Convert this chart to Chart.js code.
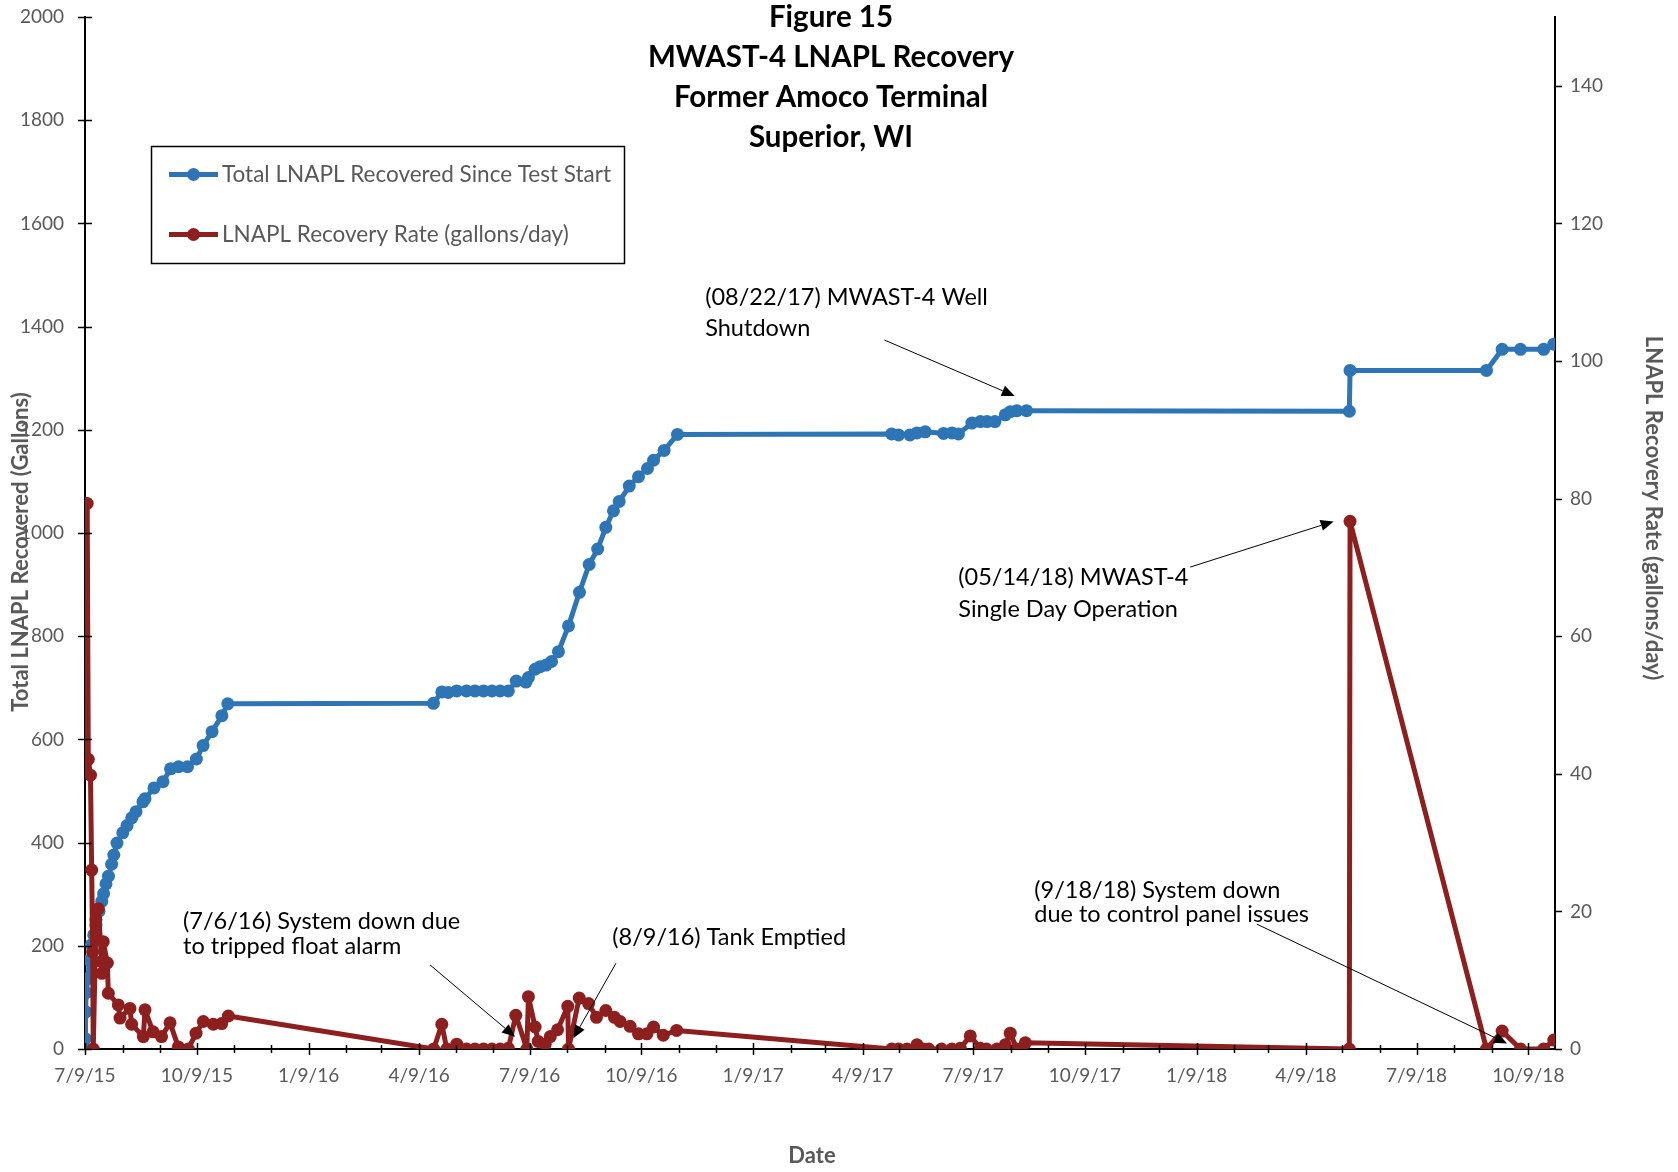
<!DOCTYPE html>
<html>
<head>
<meta charset="utf-8">
<script src="https://cdn.jsdelivr.net/npm/chart.js@4.4.1/dist/chart.umd.min.js"></script>
<style>
  html, body { margin: 0; padding: 0; background: #fff; }
  #wrap { position: relative; width: 1678px; height: 1172px; }
</style>
</head>
<body>
<div id="wrap"><canvas id="myChart"></canvas></div>
<script>
// day 0 = 7/9/15 (first reading)
const startUTC = Date.UTC(2015, 6, 9);
const endUTC = Date.UTC(2018, 9, 31);

// cumulative LNAPL recovered (gallons), left axis
const totalDays = [
  0, 0.3, 0.6, 1.0, 2.5, 3.5, 5.3, 7.2, 9.0, 11.5, 13.8, 15.3, 17.3, 19.3, 21.9, 23.7, 26.3,
  31.1, 34.6, 38.5, 42, 47.7, 49.4, 56.8, 64.2, 70.4, 77, 84.4, 91.7, 97.2, 104.6, 112.7, 117.5,
  286.8, 293.7, 299, 306, 314, 321, 328, 335, 341.7, 348.5, 355, 363, 365, 370.5, 374.6, 379.6,
  384, 389.7, 398, 407, 415, 422, 428.7, 435, 439.7, 448, 455.6, 463, 468, 476.7, 487.7,
  664, 669.7, 679, 684.8, 691.6, 706.7, 713.6, 719, 730, 737, 742.4, 749, 757.5, 761.6, 767, 775,
  1040.7, 1041.3, 1153.6, 1166.5, 1181.6, 1200.7, 1209
];
const totalGallons = [
  0, 20, 72, 109, 137, 172, 202, 221, 240, 267, 286, 301, 320, 335, 358, 376, 399,
  419, 433, 448, 460, 479, 485, 506, 518, 543, 547, 547, 562, 588, 615, 646, 669,
  670, 692, 691, 694, 694, 694, 694, 694, 694, 694, 713, 711, 720, 736, 741, 744,
  751, 770, 820, 885, 939, 969, 1011, 1043, 1061, 1091, 1109, 1125, 1141, 1160, 1191,
  1192, 1190, 1190, 1194, 1196, 1193, 1194, 1192, 1213, 1216, 1216, 1216, 1229, 1235, 1237, 1237,
  1236, 1315, 1315, 1356, 1356, 1356, 1366
];

// recovery rate (gallons/day), right axis
const rateDays = [
  0, 1.8, 2.7, 4.5, 5.5, 6.3, 6.8, 9, 11, 13.7, 13.9, 15, 18.4, 19.2, 27.4, 28.8, 37, 38.4,
  48, 49.4, 56, 63, 70, 76.8, 85, 91.4, 97.4, 105.6, 112.5, 118,
  287, 293.7, 297.8, 306, 314, 321, 328, 335, 341.7, 348.5, 354.6, 363.7, 365, 370.5, 373,
  378.8, 383, 389, 397.4, 398, 406.8, 414.5, 421, 428.7, 435.8, 440.5, 448.7, 455.6, 462.5,
  468, 476, 487,
  664, 669.7, 676.6, 684.8, 690, 694.4, 705, 713.6, 720.5, 728.7, 737, 742, 750.6, 757.5,
  761.6, 767, 774,
  1040.7, 1041.3, 1153.6, 1166.5, 1181.6, 1200.7, 1209
];
const rateGpd = [
  40.6, 79.3, 42.1, 39.8, 26.0, 14.1, 0, 18.8, 20.4, 12.7, 11.0, 15.6, 12.5, 8.1, 6.4, 4.5, 5.9, 3.6,
  1.8, 5.7, 2.5, 1.8, 3.8, 0.3, 0, 2.3, 4.0, 3.6, 3.7, 4.8,
  0, 3.6, 0, 0.7, 0, 0, 0, 0, 0, 0.1, 4.9, 0, 7.6, 3.2, 1.1,
  0.7, 1.8, 2.8, 6.2, 0, 7.4, 6.6, 4.6, 5.6, 4.6, 4.0, 3.3, 2.2, 2.2,
  3.2, 2.0, 2.7,
  0, 0, 0, 0.6, 0, 0, 0, 0, 0.1, 1.9, 0.1, 0, 0, 0.6,
  2.3, 0, 0.9,
  0, 76.7, 0, 2.6, 0, 0, 1.3
];

const titleLines = ['Figure 15', 'MWAST-4 LNAPL Recovery', 'Former Amoco Terminal', 'Superior, WI'];
const seriesNames = ['Total LNAPL Recovered Since Test Start', 'LNAPL Recovery Rate (gallons/day)'];

// callouts: text anchor and arrow in (day, left-axis gallons)
const callouts = [
  { lines: ['(08/22/17) MWAST-4 Well', 'Shutdown'], at: [510.5, 1456], gap: 31, from: [658, 1374], to: [765.3, 1265.5] },
  { lines: ['(05/14/18) MWAST-4', 'Single Day Operation'], at: [718.8, 913], gap: 32, from: [909.8, 934], to: [1027.8, 1022.5] },
  { lines: ['(7/6/16) System down due', 'to tripped float alarm'], at: [80.7, 247], gap: 24.5, from: [284, 163], to: [354, 23.8] },
  { lines: ['(8/9/16) Tank Emptied'], at: [434, 216], gap: 0, from: [437, 166], to: [402, 20.7] },
  { lines: ['(9/18/18) System down', 'due to control panel issues'], at: [781.4, 308], gap: 24.6, from: [964.6, 242], to: [1170.6, 10.7] }
];

const BLUE = '#2E75B6';
const RED = '#8E1F1F';
const GREY = '#595959';
const FONT = 'Lato, "Open Sans", sans-serif';

function dayOfMonth(k) {
  return Math.round((Date.UTC(2015, 6 + k, 9) - startUTC) / 86400000);
}
const maxDay = Math.round((endUTC - startUTC) / 86400000);

function monthLabel(k) {
  const d = new Date(Date.UTC(2015, 6 + k, 9));
  return (d.getUTCMonth() + 1) + '/' + d.getUTCDate() + '/' + String(d.getUTCFullYear()).slice(2);
}

const blueData = totalDays.map((d, i) => ({ x: d, y: totalGallons[i] }));
const redData = rateDays.map((d, i) => ({ x: d, y: rateGpd[i] }));

function arrow(ctx, x0, y0, x1, y1) {
  const a = Math.atan2(y1 - y0, x1 - x0);
  const len = 13, hw = 5.5;
  ctx.beginPath();
  ctx.moveTo(x0, y0);
  ctx.lineTo(x1 - Math.cos(a) * len, y1 - Math.sin(a) * len);
  ctx.stroke();
  ctx.beginPath();
  ctx.moveTo(x1, y1);
  ctx.lineTo(x1 - Math.cos(a) * len - Math.sin(a) * hw, y1 - Math.sin(a) * len + Math.cos(a) * hw);
  ctx.lineTo(x1 - Math.cos(a) * len + Math.sin(a) * hw, y1 - Math.sin(a) * len - Math.cos(a) * hw);
  ctx.closePath();
  ctx.fill();
}

// keep the plot box fixed: no extra room for the end labels
function fixVertical(width) {
  return scale => {
    scale.width = width;
    scale.paddingTop = 0;
    scale.paddingBottom = 0;
  };
}

const decorPlugin = {
  id: 'decor',
  afterDraw(chart) {
    const { ctx, chartArea, scales } = chart;
    const xs = scales.x, ys = scales.y, y2 = scales.y2;
    ctx.save();
    ctx.strokeStyle = '#000';
    ctx.lineWidth = 1.5;

    // tick marks
    ctx.beginPath();
    xs.ticks.forEach(t => {
      const px = Math.round(xs.getPixelForValue(t.value)) + 0.5;
      const h = t.major ? 6 : 4;
      ctx.moveTo(px, chartArea.bottom - h);
      ctx.lineTo(px, chartArea.bottom + h);
    });
    ys.ticks.forEach(t => {
      const py = Math.round(ys.getPixelForValue(t.value)) + 0.5;
      ctx.moveTo(chartArea.left - 7, py);
      ctx.lineTo(chartArea.left + 7, py);
    });
    y2.ticks.forEach(t => {
      const py = Math.round(y2.getPixelForValue(t.value)) + 0.5;
      ctx.moveTo(chartArea.right, py);
      ctx.lineTo(chartArea.right + 7, py);
    });
    ctx.stroke();

    // chart title
    ctx.fillStyle = '#000';
    ctx.font = 'bold 29.5px ' + FONT;
    ctx.textAlign = 'center';
    ctx.textBaseline = 'middle';
    titleLines.forEach((s, i) => ctx.fillText(s, 831, 17 + i * 40));

    // axis titles
    ctx.fillStyle = GREY;
    ctx.font = 'bold 22px ' + FONT;
    ctx.fillText('Date', 812, 1156);
    ctx.save();
    ctx.translate(21, 552);
    ctx.rotate(-Math.PI / 2);
    ctx.fillText('Total LNAPL Recovered (Gallons)', 0, 0);
    ctx.restore();
    ctx.save();
    ctx.translate(1653, 508);
    ctx.rotate(Math.PI / 2);
    ctx.fillText('LNAPL Recovery Rate (gallons/day)', 0, 0);
    ctx.restore();

    // legend
    ctx.fillStyle = '#fff';
    ctx.fillRect(151, 146, 473, 117);
    ctx.strokeStyle = '#000';
    ctx.lineWidth = 1.5;
    ctx.strokeRect(151.5, 146.5, 473, 117);
    [[BLUE, 174.5], [RED, 234.5]].forEach(([c, yy], i) => {
      ctx.strokeStyle = c;
      ctx.fillStyle = c;
      ctx.lineWidth = 5;
      ctx.beginPath();
      ctx.moveTo(169, yy);
      ctx.lineTo(218, yy);
      ctx.stroke();
      ctx.beginPath();
      ctx.arc(193.5, yy, 6.5, 0, Math.PI * 2);
      ctx.fill();
      ctx.fillStyle = GREY;
      ctx.font = '22.5px ' + FONT;
      ctx.textAlign = 'left';
      ctx.fillText(seriesNames[i], 222, yy);
    });

    // callouts
    ctx.fillStyle = '#000';
    ctx.strokeStyle = '#000';
    ctx.lineWidth = 1;
    ctx.font = '23.5px ' + FONT;
    ctx.textAlign = 'left';
    ctx.textBaseline = 'middle';
    callouts.forEach(c => {
      const tx = xs.getPixelForValue(c.at[0]);
      const ty = ys.getPixelForValue(c.at[1]);
      c.lines.forEach((s, i) => ctx.fillText(s, tx, ty + i * c.gap));
      arrow(ctx,
        xs.getPixelForValue(c.from[0]), ys.getPixelForValue(c.from[1]),
        xs.getPixelForValue(c.to[0]), ys.getPixelForValue(c.to[1]));
    });
    ctx.restore();
  }
};

new Chart(document.getElementById('myChart'), {
  type: 'line',
  data: {
    datasets: [
      {
        label: seriesNames[1],
        data: redData,
        yAxisID: 'y2',
        borderColor: RED,
        backgroundColor: RED,
        borderWidth: 5,
        borderJoinStyle: 'round',
        borderCapStyle: 'round',
        pointRadius: 6.5,
        pointBorderWidth: 0,
        tension: 0,
        order: 0
      },
      {
        label: seriesNames[0],
        data: blueData,
        yAxisID: 'y',
        borderColor: BLUE,
        backgroundColor: BLUE,
        borderWidth: 5,
        borderJoinStyle: 'round',
        borderCapStyle: 'round',
        pointRadius: 6.5,
        pointBorderWidth: 0,
        tension: 0,
        order: 1
      }
    ]
  },
  options: {
    responsive: true,
    maintainAspectRatio: false,
    animation: false,
    layout: { padding: { top: 17, left: 0, right: 0, bottom: 0 } },
    plugins: { legend: { display: false }, tooltip: { enabled: false }, title: { display: false } },
    scales: {
      x: {
        type: 'linear',
        min: 0,
        max: maxDay,
        afterBuildTicks: scale => {
          const ticks = [];
          for (let k = 0; dayOfMonth(k) <= maxDay; k++) {
            ticks.push({ value: dayOfMonth(k), major: k % 3 === 0, label: k % 3 === 0 ? monthLabel(k) : '' });
          }
          scale.ticks = ticks;
        },
        afterFit: scale => {
          scale.height = 123;
          scale.paddingLeft = 0;
          scale.paddingRight = 0;
        },
        ticks: {
          autoSkip: false,
          maxRotation: 0,
          color: GREY,
          padding: 15,
          font: { family: FONT, size: 19 },
          callback: function (v, i, ticks) { return ticks[i].label; }
        },
        grid: { display: false, drawTicks: false },
        border: { display: true, color: '#000', width: 2 }
      },
      y: {
        position: 'left',
        min: 0,
        max: 2000,
        afterFit: fixVertical(85),
        ticks: { stepSize: 200, color: GREY, padding: 21, font: { family: FONT, size: 19 }, callback: v => String(v) },
        grid: { display: false, drawTicks: false },
        border: { display: true, color: '#000', width: 2 }
      },
      y2: {
        position: 'right',
        min: 0,
        max: 150,
        afterBuildTicks: scale => { scale.ticks = scale.ticks.filter(t => t.value <= 140); },
        afterFit: fixVertical(123),
        ticks: { stepSize: 20, color: GREY, padding: 15, font: { family: FONT, size: 19 }, callback: v => String(v) },
        grid: { display: false, drawTicks: false },
        border: { display: true, color: '#000', width: 2 }
      }
    }
  },
  plugins: [decorPlugin]
});
</script>
</body>
</html>
